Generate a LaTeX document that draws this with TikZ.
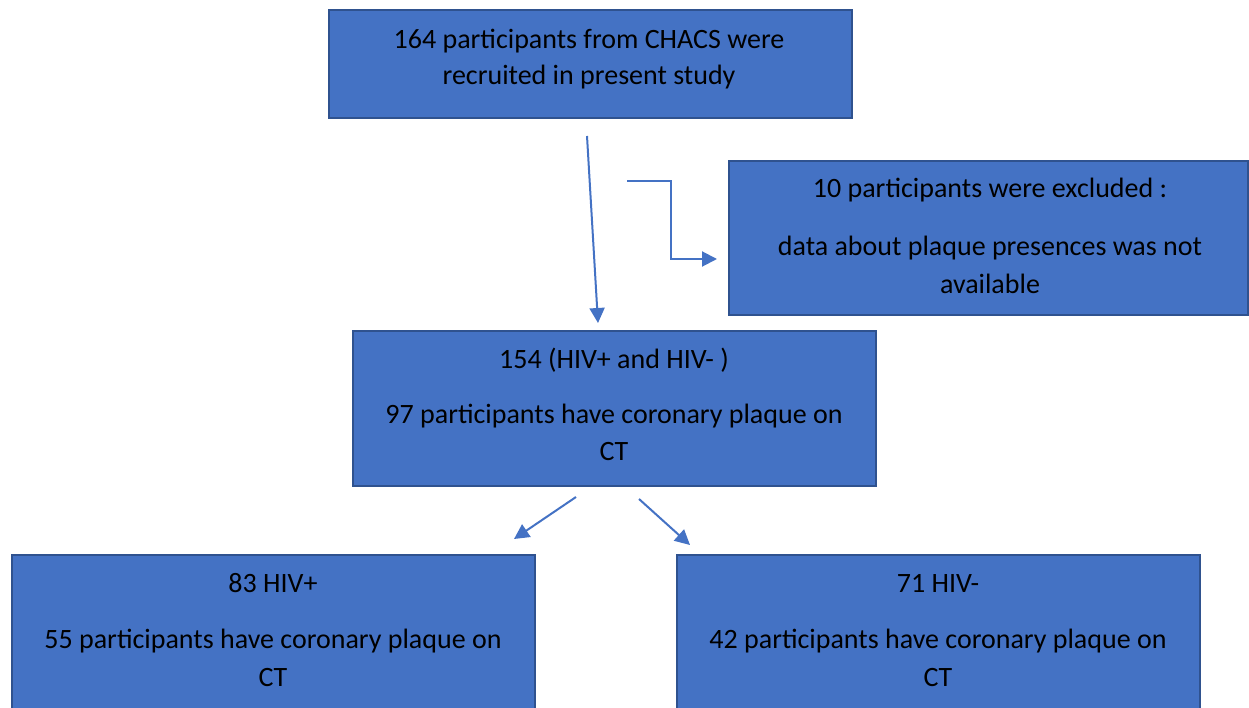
\documentclass[tikz,border=0pt]{standalone}
\usepackage{fontspec}
\setmainfont{Carlito}
\usetikzlibrary{arrows.meta,calc}
\definecolor{boxfill}{HTML}{4472C4}
\definecolor{boxline}{HTML}{2F528F}
\definecolor{arrowc}{HTML}{4472C4}
\begin{document}
\begin{tikzpicture}[x=1pt,y=-1pt,
  flowbox/.style={draw=boxline,fill=boxfill,line width=2pt,inner sep=0pt},
  txt/.style={font=\fontsize{28}{34}\selectfont,text=black,inner sep=0pt,anchor=center},
  conn/.style={draw=arrowc,line width=2pt,-{Triangle[length=15pt,width=15pt]}}]
\useasboundingbox (0,0) rectangle (1249,708);
\begin{scope}
\clip (0,0) rectangle (1249,708);
% boxes
\node[flowbox,minimum width=523pt,minimum height=108pt] (top) at (590,64.5) {};
\node[flowbox,minimum width=519pt,minimum height=154pt] (excl) at (988.5,238) {};
\node[flowbox,minimum width=523pt,minimum height=155pt] (mid) at (614,408) {};
\node[flowbox,minimum width=523pt,minimum height=200pt] (bl) at (273.5,655) {};
\node[flowbox,minimum width=523pt,minimum height=200pt] (br) at (938.5,655) {};
\end{scope}
% texts
\node[txt] (t1) at (589,41) {164 participants from CHACS were};
\node[txt] (t2) at (589,77) {recruited in present study};
\node[txt] (e1) at (990,190) {10 participants were excluded :};
\node[txt] (e2) at (990,248) {data about plaque presences was not};
\node[txt] (e3) at (990,284) {available};
\node[txt] (m1) at (614,360) {154 (HIV+ and HIV- )};
\node[txt] (m2) at (614,416) {97 participants have coronary plaque on};
\node[txt] (m3) at (614,452) {CT};
\node[txt] (l1) at (273,583) {83 HIV+};
\node[txt] (l2) at (273,641) {55 participants have coronary plaque on};
\node[txt] (l3) at (273,678) {CT};
\node[txt] (r1) at (938,583) {71 HIV-};
\node[txt] (r2) at (938,641) {42 participants have coronary plaque on};
\node[txt] (r3) at (938,678) {CT};
% connector end points
\coordinate (a1s) at (587,136);
\coordinate (a1e) at (598,323);
\coordinate (a2s) at (627,181);
\coordinate (a2k1) at (671,181);
\coordinate (a2k2) at (671,259);
\coordinate (a2e) at (717,259);
\coordinate (a3s) at (576,497);
\coordinate (a3e) at (514,539);
\coordinate (a4s) at (639,499);
\coordinate (a4e) at (690,545);
\draw[conn] (a1s) -- (a1e);
\draw[conn] (a2s) -- (a2k1) -- (a2k2) -- (a2e);
\draw[conn] (a3s) -- (a3e);
\draw[conn] (a4s) -- (a4e);
\end{tikzpicture}
\end{document}
